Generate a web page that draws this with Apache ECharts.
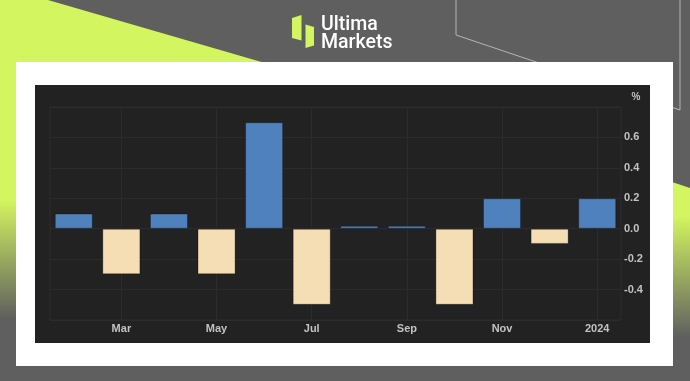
<!DOCTYPE html>
<html>
<head>
<meta charset="utf-8">
<script src="https://cdn.jsdelivr.net/npm/echarts@6/dist/echarts.min.js"></script>
<style>
html,body{margin:0;padding:0;background:#5f5f5f;}
#c{width:690px;height:381px;}
</style>
</head>
<body>
<div id="c"></div>
<script>
const categories = ['Feb','Mar','Apr','May','Jun','Jul','Aug','Sep','Oct','Nov','Dec','2024'];
const values = [0.1, -0.3, 0.1, -0.3, 0.7, -0.5, 0.0, 0.0, -0.5, 0.2, -0.1, 0.2];
const yTicks = { min: -0.6, max: 0.8, step: 0.2 };
const unitLabel = '%';
const brandTop = 'Ultima';
const brandBottom = 'Markets';

const LIME = '#d3f55f';
const GRAY = '#5f5f5f';
const BLUE = '#4f81bd';
const WHEAT = '#f5deb3';
const GRID = '#2c2c2c';
const LABEL = '#c2c2c2';

const chart = echarts.init(document.getElementById('c'), null, {renderer:'canvas'});

const showEveryOther = (i) => i % 2 === 1;

chart.setOption({
  backgroundColor: GRAY,
  animation: false,
  graphic: { elements: [
    { type:'rect', z:-20, shape:{x:0,y:0,width:16,height:381},
      style:{ fill: new echarts.graphic.LinearGradient(0,0,0,1,[
        {offset:0,color:LIME},{offset:200/381,color:LIME},{offset:318/381,color:GRAY},{offset:1,color:GRAY}]) } },
    { type:'polygon', z:-20, shape:{points:[[0,0],[48,0],[265,63],[0,63]]}, style:{fill:LIME} },
    { type:'polygon', z:-20, shape:{points:[[672,182],[690,188],[690,381],[672,381]]},
      style:{ fill: new echarts.graphic.LinearGradient(0,0,0,1,[
        {offset:0,color:LIME},{offset:0.17,color:LIME},{offset:0.78,color:GRAY},{offset:1,color:GRAY}]) } },
    { type:'polyline', z:-19, shape:{points:[[456,0],[456,35],[545,65]]}, style:{stroke:'#b5b5b5',lineWidth:1,fill:null} },
    { type:'polyline', z:-19, shape:{points:[[665,105],[680,110],[680,0]]}, style:{stroke:'#b5b5b5',lineWidth:1,fill:null} },
    { type:'rect', z:-15, shape:{x:16,y:62,width:657,height:304}, style:{fill:'#ffffff'} },
    { type:'rect', z:-14, shape:{x:35,y:85,width:615,height:258}, style:{fill:'#222222'} },
    { type:'polygon', z:-10, shape:{points:[[292,18],[301.5,15],[301.5,40.5],[292,38]]}, style:{fill:LIME} },
    { type:'polygon', z:-10, shape:{points:[[305.5,24.5],[314,27],[314,45.5],[305.5,48]]}, style:{fill:LIME} },
    { type:'text', z:-10, style:{ text:brandTop, x:321, y:15, fill:'#ffffff',
      font:'500 19.5px Roboto', textAlign:'left', textVerticalAlign:'top', align:'left', verticalAlign:'top' } },
    { type:'text', z:-10, style:{ text:brandBottom, x:321, y:33, fill:'#ffffff',
      font:'500 19.5px Roboto', textAlign:'left', textVerticalAlign:'top', align:'left', verticalAlign:'top' } },
    { type:'text', z:5, style:{ text:unitLabel, x:636, y:97, fill:LABEL,
      font:'bold 10px "Liberation Sans"', textAlign:'center', textVerticalAlign:'middle', align:'center', verticalAlign:'middle' } }
  ]},
  grid: { left:50, right:69, top:107, bottom:61, show:true, borderColor:GRID, borderWidth:1, backgroundColor:'transparent' },
  xAxis: {
    type:'category', data:categories, boundaryGap:true,
    axisLine:{show:false}, axisTick:{show:false},
    axisLabel:{ interval:showEveryOther, color:LABEL, fontSize:11, fontWeight:'bold', fontFamily:'Liberation Sans', margin:3 },
    splitLine:{ show:true, interval:showEveryOther, alignWithLabel:true, lineStyle:{color:GRID,width:1} }
  },
  yAxis: {
    type:'value', position:'right', min:yTicks.min, max:yTicks.max, interval:yTicks.step,
    axisLine:{show:false}, axisTick:{show:false},
    axisLabel:{ showMinLabel:false, showMaxLabel:false, color:LABEL, fontSize:11, fontWeight:'bold', fontFamily:'Liberation Sans', margin:3,
      formatter:(v)=>v.toFixed(1) },
    splitLine:{ show:true, lineStyle:{color:GRID,width:1} }
  },
  series: [{
    type:'bar', data:values, barWidth:'80%', barMinHeight:3,
    itemStyle:{ color:(p)=> p.value >= 0 ? BLUE : WHEAT, borderColor:'rgba(0,0,0,0.3)', borderWidth:1 }
  }]
});
</script>
</body>
</html>
